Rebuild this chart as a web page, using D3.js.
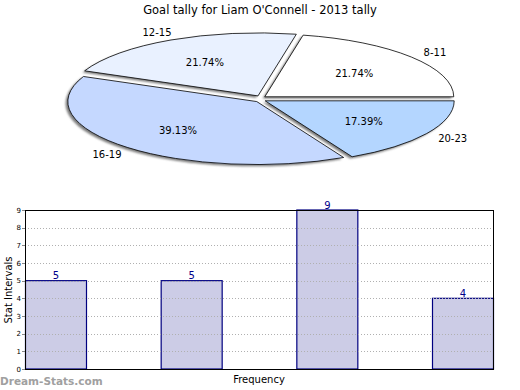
<!DOCTYPE html>
<html><head><meta charset="utf-8">
<script src="https://cdn.jsdelivr.net/npm/d3@7"></script>
<style>body{margin:0;background:#fff}svg{display:block;font-family:"DejaVu Sans",sans-serif}</style>
</head><body><svg id="c" width="520" height="390"></svg>
<script>
const title = "Goal tally for Liam O'Connell - 2013 tally";
const categories = ["8-11", "12-15", "16-19", "20-23"];
const counts = [5, 5, 9, 4];
const percentLabels = ["21.74%", "21.74%", "39.13%", "17.39%"];
const sliceColors = ["#ffffff", "#e9f1ff", "#c5d8ff", "#b4d6ff"];
const yTicks = [0,1,2,3,4,5,6,7,8,9];
const xTitle = "Frequency", yTitle = "Stat Intervals", watermark = "Dream-Stats.com";

const svg = d3.select("#c");
const defs = svg.append("defs");
const f = defs.append("filter").attr("id","blur").attr("filterUnits","userSpaceOnUse")
  .attr("x",0).attr("y",0).attr("width",520).attr("height",200);
f.append("feGaussianBlur").attr("stdDeviation",0.8);

svg.append("text").attr("x",260).attr("y",14).attr("text-anchor","middle")
  .attr("font-size",11.5).attr("fill","#000").text(title);

// Pie
const cx = 260.5, cy = 99, rx = 189, ry = 63, ex = 5.5, ey = 3.5;
const pie = d3.pie().sort(null).startAngle(Math.PI/2).endAngle(Math.PI/2 - 2*Math.PI);
const arcs = pie(counts);
const arc = d3.arc().innerRadius(0).outerRadius(1);
const g = svg.append("g");
const mid = d => (d.startAngle + d.endAngle)/2;
const shadowG = g.append("g").attr("filter","url(#blur)");
arcs.forEach((d,i)=>{
  const a = mid(d);
  const ox = cx + Math.sin(a)*ex, oy = cy - Math.cos(a)*ey;
  shadowG.append("path").attr("d",arc(d))
    .attr("transform",`translate(${ox-2.2},${oy+1.8}) scale(${rx},${ry})`)
    .attr("fill","#7a7a7a");
});
arcs.forEach((d,i)=>{
  const a = mid(d);
  const ox = cx + Math.sin(a)*ex, oy = cy - Math.cos(a)*ey;
  g.append("path").attr("d",arc(d))
    .attr("transform",`translate(${ox},${oy}) scale(${rx},${ry})`)
    .attr("fill",sliceColors[i]).attr("stroke","#000").attr("stroke-width",0.8)
    .attr("vector-effect","non-scaling-stroke");
  const lr = 0.61;
  g.append("text").attr("x",ox+Math.sin(a)*rx*lr).attr("y",oy-Math.cos(a)*ry*lr+4)
    .attr("text-anchor","middle").attr("font-size",10).text(percentLabels[i]);
  const orr = 1.19;
  g.append("text").attr("x",cx+Math.sin(a)*rx*orr).attr("y",cy-Math.cos(a)*ry*orr+4)
    .attr("text-anchor","middle").attr("font-size",10).text(categories[i]);
});

// Bar chart
const L = 25, R = 493, T = 210, B = 369;
const y = d3.scaleLinear().domain([0,9]).range([B,T]);
const bw = 61;
const x = d3.scalePoint().domain(categories).range([L, R-bw]);
const bars = svg.append("g");
bars.selectAll("rect").data(counts).join("rect")
  .attr("x",(d,i)=>x(categories[i])+0.5).attr("y",d=>y(d)).attr("width",bw)
  .attr("height",d=>B-y(d)).attr("fill","#ccccE6").attr("stroke","#000080").attr("stroke-width",1.2);
// grid
svg.append("g").selectAll("line").data(yTicks.slice(1)).join("line")
  .attr("x1",L).attr("x2",R+3).attr("y1",d=>Math.round(y(d))+0.5).attr("y2",d=>Math.round(y(d))+0.5)
  .attr("stroke","#b0b0b0").attr("stroke-width",1).attr("stroke-dasharray","1,2");
svg.append("rect").attr("x",L+0.5).attr("y",T+0.5).attr("width",R-L).attr("height",B-T)
  .attr("fill","none").attr("stroke","#000").attr("stroke-width",1);
// ticks
const ax = svg.append("g");
ax.selectAll("line").data(yTicks).join("line").attr("x1",L-3).attr("x2",L)
  .attr("y1",d=>Math.round(y(d))+0.5).attr("y2",d=>Math.round(y(d))+0.5).attr("stroke","#888");
ax.selectAll("text").data(yTicks).join("text").attr("x",L-4).attr("y",d=>y(d)+2.5)
  .attr("text-anchor","end").attr("font-size",7).text(d=>d);
// value labels
svg.append("g").selectAll("text").data(counts).join("text")
  .attr("x",(d,i)=>x(categories[i])+bw/2+0.5).attr("y",d=>y(d)-1.5)
  .attr("text-anchor","middle").attr("font-size",10).attr("fill","#00008b").text(d=>d);

svg.append("text").attr("x",259).attr("y",383).attr("text-anchor","middle").attr("font-size",10).text(xTitle);
svg.append("text").attr("transform","translate(12,290) rotate(-90)").attr("text-anchor","middle").attr("font-size",10).text(yTitle);
svg.append("text").attr("x",0).attr("y",385).attr("font-size",10.5).attr("font-weight","bold").attr("fill","#a0a0a0").text(watermark);
</script></body></html>
